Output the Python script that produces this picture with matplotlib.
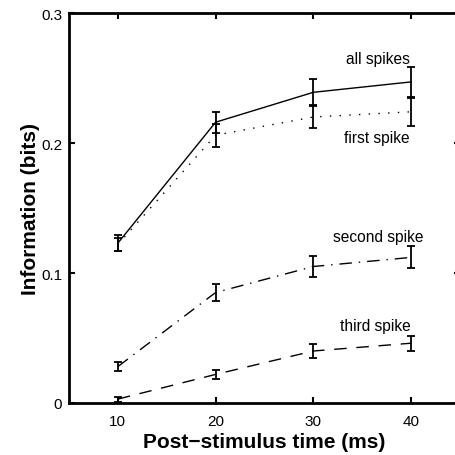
import numpy as np
import matplotlib
matplotlib.use("Agg")
import matplotlib.pyplot as plt

plt.rcParams['font.family'] = ['Liberation Sans', 'DejaVu Sans']

# post-stimulus time windows (ms)
t = [10, 20, 30, 40]

# information (bits) and error bars
all_spikes = [0.123, 0.216, 0.239, 0.247]
all_err = [0.006, 0.008, 0.010, 0.0115]
first_spike = [0.122, 0.206, 0.220, 0.224]
first_err = [0.005, 0.009, 0.0085, 0.011]
second_spike = [0.028, 0.085, 0.105, 0.112]
second_err = [0.0035, 0.0065, 0.0077, 0.0085]
third_spike = [0.003, 0.022, 0.040, 0.046]
third_err = [0.002, 0.0035, 0.0055, 0.0058]

xticks = [10, 20, 30, 40]
yticks = [0, 0.1, 0.2, 0.3]
ytick_labels = ["0", "0.1", "0.2", "0.3"]

fig = plt.figure(figsize=(4.55, 4.56), dpi=100)
# right spine sits just outside the picture, as in the original crop
ax = fig.add_axes([69/455, 52/456, 391/455, 390/456])

series = [
    (all_spikes, all_err, "-"),
    (first_spike, first_err, (0, (1, 6))),
    (second_spike, second_err, (0, (9, 5, 1, 5))),
    (third_spike, third_err, (0, (9, 7))),
]
for y, e, ls in series:
    ax.plot(t, y, color="black", linestyle=ls, linewidth=1.0)
    ax.errorbar(t, y, yerr=e, fmt="none", ecolor="black",
                elinewidth=1.3, capsize=2.6, capthick=1.3)

# curve labels
ax.text(36.6, 0.265, "all spikes", ha="center", va="center", fontsize=11.2)
ax.text(36.5, 0.204, "first spike", ha="center", va="center", fontsize=11.2)
ax.text(36.6, 0.128, "second spike", ha="center", va="center", fontsize=11.2)
ax.text(36.3, 0.060, "third spike", ha="center", va="center", fontsize=11.2)

ax.set_xlim(5, 45)
ax.set_ylim(0, 0.3)
ax.set_xticks(xticks)
ax.set_yticks(yticks)
ax.set_yticklabels(ytick_labels)
ax.tick_params(direction="in", length=4, width=1.5, labelsize=11,
               top=True, right=True)
ax.tick_params(axis="x", pad=8)
ax.tick_params(axis="y", pad=5)
for s in ax.spines.values():
    s.set_linewidth(2)

ax.set_xlabel("Post\u2212stimulus time (ms)", fontsize=15, fontweight="bold", labelpad=3)
ax.set_ylabel("Information (bits)", fontsize=15, fontweight="bold", labelpad=1)

fig.savefig("out.png", dpi=100)
